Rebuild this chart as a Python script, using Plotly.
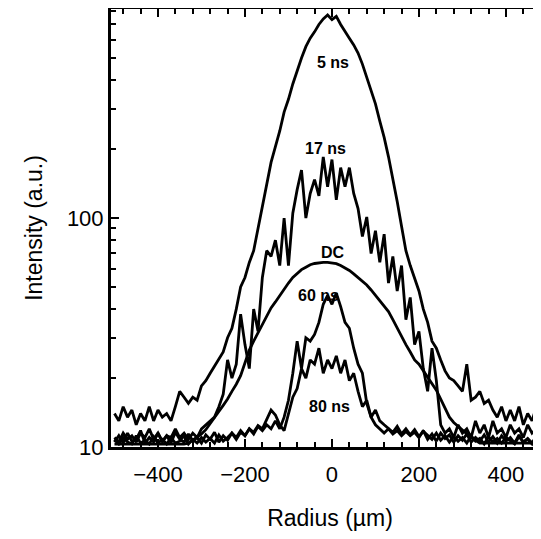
import plotly.graph_objects as go
import math

# radius grid (um), step 10
radius = list(range(-500, 481, 10))

ns5 = [14, 13, 15, 13.5, 14.5, 12.5, 14, 13, 15, 13,
       14.5, 13.5, 14, 13, 15, 17.5, 16.5, 15.5, 16.5, 16,
       18.5, 19.5, 21, 22.5, 24, 26, 30, 33, 40, 50,
       55, 64, 72, 90, 115, 145, 175, 205, 240, 290,
       330, 385, 440, 500, 560, 610, 650, 700, 740, 770,
       735, 760, 700, 650, 610, 570, 525, 470, 414, 365,
       315, 265, 225, 185, 150, 118, 92, 72, 62, 55,
       48, 40, 35, 29, 27, 24, 21.5, 20, 19.5, 18.5,
       17.5, 23, 16, 16.5, 17.5, 15.5, 16, 14.5, 13.5, 15,
       13, 14.5, 13, 15, 12.5, 14, 13, 15, 13.5]

ns17 = [11, 10.5, 11.5, 10.8, 11.2, 10.5, 11.5, 11, 12, 10.8,
        11.5, 10.5, 11.2, 11, 12, 11, 11.5, 10.8, 11.5, 11,
        12, 12.5, 13, 13.5, 15, 17, 24, 20, 23, 38,
        28, 22, 40, 32, 55, 72, 68, 80, 62, 100,
        62, 105, 133, 162, 100, 128, 147, 125, 185, 137,
        180, 120, 166, 137, 166, 128, 110, 83, 101, 70,
        88, 64, 85, 52, 68, 48, 62, 36, 45, 28,
        32, 22, 17.5, 27, 19.5, 12.5, 11.5, 12, 11, 12.5,
        11.5, 12, 11, 13, 11.5, 12.5, 11, 13, 11.5, 12,
        11, 12.5, 11.5, 12, 11, 12.5, 11.5, 12, 11]

dc = [10.3, 10.3, 10.3, 10.3, 10.3, 10.3, 10.3, 10.3, 10.3, 10.3,
      10.3, 10.3, 10.3, 10.3, 10.3, 10.3, 10.3, 10.4, 10.7, 11.0,
      11.4, 11.9, 12.6, 13.5, 14.3, 15.2, 16.2, 17.5, 18.8, 20.5,
      23.5, 26.5, 29, 31.5, 34.5, 37.5, 40.5, 43, 46, 49,
      52, 55, 57.5, 59.5, 61, 62.5, 63.3, 63.8, 64, 64,
      63.8, 63.2, 62, 60.5, 59, 57, 55, 53, 51, 48.5,
      46, 43.5, 41.5, 39, 36, 33, 30.5, 28, 26, 24,
      23, 21.5, 20, 18.8, 17.7, 16.2, 14.8, 13.5, 12.8, 12.3,
      11.9, 11.4, 11, 10.7, 10.4, 10.4, 10.4, 10.4, 10.4, 10.4,
      10.4, 10.4, 10.4, 10.4, 10.4, 10.4, 10.4, 10.4, 10.4]

ns60 = [10.5, 11.2, 10.4, 11.5, 10.6, 10.8, 11.8, 10.4, 11, 10.5,
        11.5, 10.6, 11.2, 10.4, 11.6, 10.8, 10.5, 11.4, 10.6, 11,
        10.4, 11.3, 10.8, 11.6, 10.5, 11.2, 10.7, 11.5, 11, 11.8,
        11.2, 12, 11.4, 12.3, 11.8, 12.5, 12, 13, 12, 13.5,
        16, 21, 29, 22, 30, 29, 31, 35, 42, 46,
        42, 47, 41, 35, 33, 27, 23, 21, 15.5, 13.5,
        12.5, 12, 11.5, 12, 11.4, 11.8, 11.2, 11.7, 11.2, 11.6,
        11, 11.8, 10.8, 11.4, 10.6, 11.5, 10.9, 11.3, 10.5, 11.2,
        10.7, 11.4, 10.5, 11, 10.6, 11.3, 10.5, 11.1, 10.4, 11.2,
        10.6, 11, 10.4, 11.3, 10.5, 10.9, 10.4, 11.2, 10.6]

ns80 = [10.8, 10.3, 11, 10.5, 10.3, 11.2, 10.4, 10.7, 10.3, 11.1,
        10.4, 10.8, 10.3, 11, 10.4, 10.6, 11.2, 10.3, 10.8, 10.4,
        11, 10.5, 10.9, 10.4, 11.3, 10.6, 11, 11.5, 10.8, 11.6,
        11.2, 12, 11.6, 12.4, 12, 13.2, 14.5, 13.8, 12.5, 11.8,
        14, 16.5, 18, 22, 20, 24, 23, 27, 21, 24,
        22, 25, 21, 24, 19.5, 21, 17.5, 15, 16, 13.5,
        14.5, 13, 12.5, 12, 11.6, 12.3, 11.4, 12, 11.3, 11.9,
        11.1, 11.7, 11.2, 10.8, 11.5, 10.7, 11.2, 10.5, 11.1, 10.6,
        11, 10.4, 11.2, 10.6, 10.9, 10.3, 11.1, 10.5, 10.9, 10.4,
        11, 10.6, 10.3, 11.1, 10.5, 10.8, 10.3, 11, 10.5]

# curve labels: (text, radius, intensity)
labels = [("5 ns", 2, 480), ("17 ns", -16, 202), ("DC", 2, 71),
          ("60 ns", -32, 46), ("80 ns", -5, 15)]

fig = go.Figure()
for ys in [ns5, ns17, dc, ns60, ns80]:
    fig.add_trace(go.Scatter(x=radius, y=ys, mode='lines',
                             line=dict(color='black', width=2.8),
                             showlegend=False))

for txt, lx, ly in labels:
    fig.add_annotation(x=lx, y=math.log10(ly), text='<b>' + txt + '</b>',
                       showarrow=False, font=dict(size=16, color='black'))

fnt = dict(family='Liberation Sans, Arial', size=22, color='black')

# page body adds ~8px offset, margins compensate for it
fig.update_layout(width=541, height=539,
                  margin=dict(l=103, r=0, t=1, b=100),
                  plot_bgcolor='white', paper_bgcolor='white',
                  font=fnt)

fig.update_xaxes(range=[-508, 499], tickmode='linear', tick0=0, dtick=200,
                 ticks='inside', ticklen=8, tickwidth=2, tickcolor='black',
                 minor=dict(ticks='inside', ticklen=5, tickwidth=2,
                            tickcolor='black', dtick=40, tick0=0),
                 showline=True, linewidth=3, linecolor='black',
                 mirror='allticks', showgrid=False, zeroline=False,
                 automargin=False, ticklabelstandoff=6,
                 title=dict(text='Radius (µm)', font=dict(size=23), standoff=24))

fig.update_yaxes(type='log', range=[1, math.log10(818)],
                 tickvals=[10, 100], ticktext=['10', '100'],
                 ticks='inside', ticklen=8, tickwidth=2, tickcolor='black',
                 minor=dict(ticks='inside', ticklen=5, tickwidth=2,
                            tickcolor='black',
                            tickvals=[20, 30, 40, 50, 60, 70, 80, 90,
                                      200, 300, 400, 500, 600, 700, 800]),
                 showline=True, linewidth=3, linecolor='black',
                 showgrid=False, zeroline=False, automargin=False,
                 title=dict(text='Intensity (a.u.)', font=dict(size=23), standoff=18))

fig.write_html("out.html")
